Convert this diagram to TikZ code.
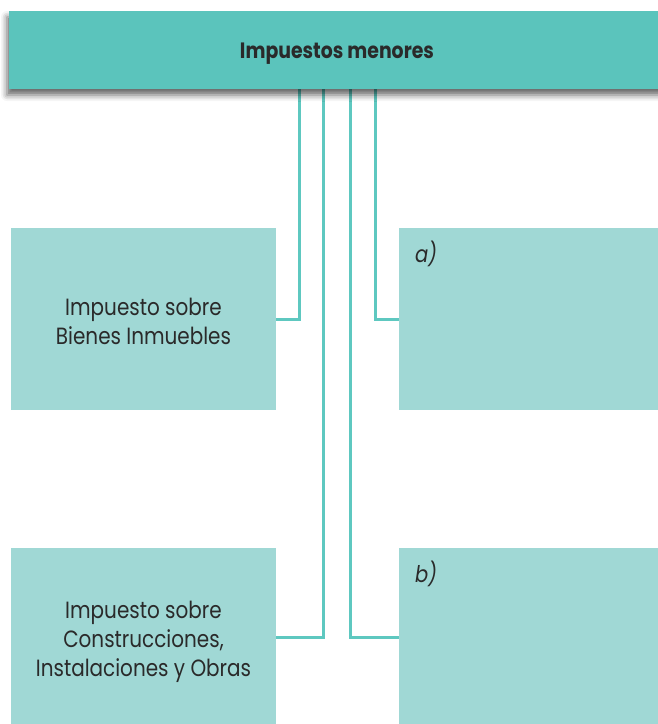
\documentclass[tikz,border=0pt]{standalone}
\usepackage{fontspec}
\setmainfont[FakeStretch=0.85]{Poppins}
\usetikzlibrary{shadows.blur}
\definecolor{barcol}{HTML}{5BC4BC}
\definecolor{boxcol}{HTML}{A0D8D5}
\definecolor{linecol}{HTML}{5EC8C0}
\definecolor{txtcol}{HTML}{2A2A2A}
\pgfdeclarelayer{bg}
\pgfsetlayers{bg,main}
\begin{document}
\begin{tikzpicture}[x=1pt,y=-1pt,
  barstyle/.style={fill=barcol, draw=none, minimum width=656pt, minimum height=78pt,
    inner sep=0pt,
    blur shadow={shadow xshift=-2pt, shadow yshift=-6pt, shadow blur radius=6pt, shadow opacity=60}},
  titlestyle/.style={inner sep=0pt, font=\bfseries\fontsize{22.2}{24}\selectfont, text=txtcol},
  boxstyle/.style={fill=boxcol, draw=none, minimum width=265pt, minimum height=182pt, inner sep=0pt},
  txtstyle/.style={inner sep=0pt, align=center, font=\fontsize{23.5}{29}\selectfont, text=txtcol},
  lblstyle/.style={anchor=base west, inner sep=0pt, font=\itshape\fontsize{23}{24}\selectfont, text=txtcol},
  conn/.style={draw=linecol, line width=3pt},
]
\useasboundingbox (0,0) rectangle (658,724);
\node[barstyle] (top) at (337,50) {};
\node[titlestyle] (title) at ([yshift=-4pt]top.center) {Impuestos menores};
\node[boxstyle] (ibi) at (143.5,319) {};
\node[txtstyle] (ibitext) at ([yshift=-2pt]ibi.center) {Impuesto sobre\\Bienes Inmuebles};
\node[boxstyle] (a) at (531.5,319) {};
\node[boxstyle, minimum height=178pt] (icio) at (143.5,637) {};
\node[txtstyle] (iciotext) at ([yshift=-5pt]icio.center) {Impuesto sobre\\Construcciones,\\Instalaciones y Obras};
\node[boxstyle, minimum height=178pt] (b) at (531.5,637) {};
\node[lblstyle] (la) at ([xshift=16pt, yshift=-35pt]a.north west) {a)};
\node[lblstyle] (lb) at ([xshift=16pt, yshift=-35pt]b.north west) {b)};
\begin{pgfonlayer}{bg}
\draw[conn] ([xshift=-38pt]top.south) |- (ibi.east);
\draw[conn] ([xshift=38pt]top.south) |- (a.west);
\draw[conn] ([xshift=-13.5pt]top.south) |- (icio.east);
\draw[conn] ([xshift=13.5pt]top.south) |- (b.west);
\end{pgfonlayer}
\end{tikzpicture}
\end{document}
